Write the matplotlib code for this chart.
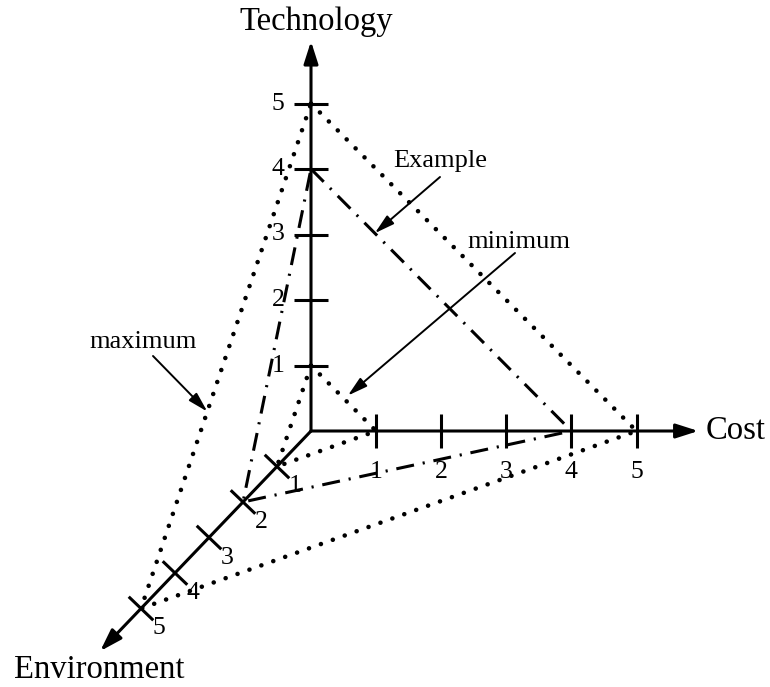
import matplotlib
matplotlib.use("Agg")
import matplotlib.pyplot as plt
import numpy as np

# ---- data ----
tick_values = [1, 2, 3, 4, 5]
axis_names = ["Technology", "Cost", "Environment"]
# triangles given as (technology, cost, environment)
maximum = [5, 5, 5]
example = [4, 4, 2]
minimum = [1, 1, 1]

plt.rcParams['font.family'] = ['Liberation Serif', 'DejaVu Serif']

fig = plt.figure(figsize=(7.7, 6.87), dpi=100)
ax = fig.add_axes([0, 0, 1, 1])
ax.set_xlim(0, 770)
ax.set_ylim(687, 0)
ax.axis('off')

# projection of the three axes onto the page
O = np.array([311.0, 431.0])
TU = np.array([0.0, -65.5])     # technology unit
CU = np.array([65.1, 0.0])      # cost unit
EU = np.array([-34.0, 35.5])    # environment unit


def proj(t, c, e):
    return O + t * TU + c * CU + e * EU


axis_units = [TU, CU, EU]
tips = [O + 5.95 * TU, O + 5.95 * CU, O + 6.2 * EU]

lw_axis = 2.2
for tip in tips:
    ax.annotate('', xy=tip, xytext=O,
                arrowprops=dict(arrowstyle='-|>,head_length=0.75,head_width=0.24',
                                mutation_scale=18, lw=lw_axis, color='black',
                                shrinkA=0, shrinkB=0))

# ticks
half = 17.0
for k, U in enumerate(axis_units):
    d = U / np.linalg.norm(U)
    perp = np.array([-d[1], d[0]])
    for v in tick_values:
        p = O + v * U
        a = p - half * perp
        b = p + half * perp
        ax.plot([a[0], b[0]], [a[1], b[1]], color='black', lw=lw_axis,
                solid_capstyle='butt')

# tick labels
fs_tick = 18.5
for v in tick_values:
    p = proj(v, 0, 0)
    ax.text(p[0] - 33, p[1], str(v), fontsize=fs_tick, ha='center', va='center')
    p = proj(0, v, 0)
    ax.text(p[0], p[1] + 41, str(v), fontsize=fs_tick, ha='center', va='center')
    p = proj(0, 0, v)
    ax.text(p[0] + 18, p[1] + 20, str(v), fontsize=fs_tick, ha='center', va='center')

# axis titles
fs_title = 23.5
ax.text(316, 22, axis_names[0], fontsize=fs_title, ha='center', va='center')
ax.text(736, 431, axis_names[1], fontsize=fs_title, ha='center', va='center')
ax.text(99, 670, axis_names[2], fontsize=fs_title, ha='center', va='center')


def triangle(vals):
    t, c, e = vals
    pts = [proj(t, 0, 0), proj(0, c, 0), proj(0, 0, e), proj(t, 0, 0)]
    pts = np.array(pts)
    return pts[:, 0], pts[:, 1]


dot_style = dict(color='black', lw=3.3, linestyle=(0, (0.01, 2.75)),
                 dash_capstyle='round')
x, y = triangle(maximum)
ax.plot(x, y, **dot_style)
x, y = triangle(minimum)
ax.plot(x, y, **dot_style)
x, y = triangle(example)
ax.plot(x, y, color='black', lw=2.2, linestyle=(0, (5.9, 2.9, 0.7, 2.9)))

# annotations
ann_arrow = dict(arrowstyle='-|>,head_length=0.8,head_width=0.22',
                 mutation_scale=15, lw=1.4, color='black',
                 shrinkA=0, shrinkB=0)
fs_ann = 19


def along(a, b, f):
    return a + f * (b - a)


ex_tip = along(proj(example[0], 0, 0), proj(0, example[1], 0), 0.245)
ax.annotate('', xy=ex_tip, xytext=(440, 177), arrowprops=ann_arrow)
ax.text(440, 161, 'Example', fontsize=fs_ann, ha='center', va='center')

mn_tip = along(proj(minimum[0], 0, 0), proj(0, minimum[1], 0), 0.52) + np.array([3, -4])
ax.annotate('', xy=mn_tip, xytext=(515, 253), arrowprops=ann_arrow)
ax.text(519, 242, 'minimum', fontsize=fs_ann, ha='center', va='center')

mx_tip = along(proj(0, 0, maximum[2]), proj(maximum[0], 0, 0), 0.39)
ax.annotate('', xy=mx_tip, xytext=(153, 356), arrowprops=ann_arrow)
ax.text(143, 342, 'maximum', fontsize=fs_ann, ha='center', va='center')

fig.savefig('out.png', dpi=100)
